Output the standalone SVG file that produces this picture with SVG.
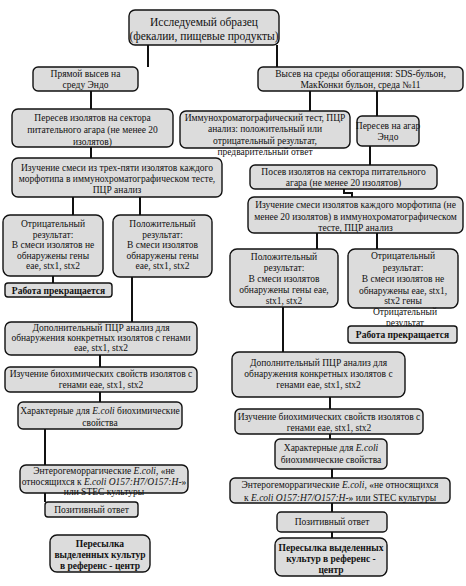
<svg xmlns="http://www.w3.org/2000/svg" width="466" height="586" viewBox="0 0 466 586">
<style>
.b{fill:#dcdcdc;stroke:#111;stroke-width:1.4}
.t{font-family:"Liberation Serif","Times New Roman",serif;font-size:9.5px;fill:#111;text-anchor:middle}
.bt{font-weight:bold}
.c{stroke:#111;stroke-width:2;fill:none}
</style>
<rect width="466" height="586" fill="#fff"/>
<g id="connectors">
<path class="c" d="M148,45V67M277,45V67M91,91V109M310,91V111M377,91V116M91,147V158M73,197V215M140,197V215M53,276V283M132,277V322M100,355V367M100,392V402M45,429V502M370,146V165M344,189V193H352V197M317,233V249M377,233V249M283,307V352M330,397V409M330,434V439M332,469V478M332,503V512M332,532V538"/>
</g>
<g id="n1"><rect class="b" x="129" y="10" width="150" height="35" rx="6"/>
<text class="t" style="font-size:11.5px"><tspan x="204" y="26">Исследуемый образец</tspan><tspan x="204" y="40">(фекалии, пищевые продукты)</tspan></text></g>
<g id="n2"><rect class="b" x="33" y="67" width="105" height="24" rx="5"/>
<text class="t"><tspan x="85.5" y="77">Прямой высев на</tspan><tspan x="85.5" y="88">среду Эндо</tspan></text></g>
<g id="n3"><rect class="b" x="258" y="67" width="205" height="24" rx="5"/>
<text class="t"><tspan x="360.5" y="77">Высев на среды обогащения: SDS-бульон,</tspan><tspan x="360.5" y="88">МакКонки бульон, среда №11</tspan></text></g>
<g id="n4"><rect class="b" x="12" y="109" width="161" height="38" rx="6"/>
<text class="t"><tspan x="92.5" y="121">Пересев изолятов на сектора</tspan><tspan x="92.5" y="133">питательного агара (не менее 20</tspan><tspan x="92.5" y="145">изолятов)</tspan></text></g>
<g id="n5"><rect class="b" x="180" y="111" width="170" height="37" rx="6"/>
<text class="t"><tspan x="265" y="121">Иммунохроматографический тест, ПЦР</tspan><tspan x="265" y="132">анализ: положительный или</tspan><tspan x="265" y="144">отрицательный результат,</tspan><tspan x="265" y="155">предварительный ответ</tspan></text></g>
<g id="n6"><rect class="b" x="357" y="116" width="62" height="30" rx="5"/>
<text class="t"><tspan x="388" y="129">Пересев на агар</tspan><tspan x="388" y="140">Эндо</tspan></text></g>
<g id="n7"><rect class="b" x="12" y="158" width="210" height="39" rx="6"/>
<text class="t"><tspan x="117" y="171">Изучение смеси из трех-пяти изолятов каждого</tspan><tspan x="117" y="182">морфотипа в иммунохроматографическом тесте,</tspan><tspan x="117" y="193">ПЦР анализ</tspan></text></g>
<g id="n8"><rect class="b" x="250" y="165" width="187" height="24" rx="5"/>
<text class="t"><tspan x="343.5" y="175">Посев изолятов на сектора питательного</tspan><tspan x="343.5" y="186">агара (не менее 20 изолятов)</tspan></text></g>
<g id="n9"><rect class="b" x="248" y="197" width="215" height="36" rx="6"/>
<text class="t"><tspan x="355.5" y="208">Изучение смеси изолятов каждого морфотипа (не</tspan><tspan x="355.5" y="219.5">менее 20 изолятов) в иммунохроматографическом</tspan><tspan x="355.5" y="231">тесте, ПЦР анализ</tspan></text></g>
<g id="n10"><rect class="b" x="3" y="215" width="100" height="61" rx="7"/>
<text class="t"><tspan x="53" y="227">Отрицательный</tspan><tspan x="53" y="237.5">результат:</tspan><tspan x="53" y="248">В смеси изолятов не</tspan><tspan x="53" y="258.5">обнаружены гены</tspan><tspan x="53" y="269">eae, stx1, stx2</tspan></text></g>
<g id="n11"><rect class="b" x="113" y="215" width="99" height="62" rx="7"/>
<text class="t"><tspan x="162.5" y="227">Положительный</tspan><tspan x="162.5" y="237.5">результат:</tspan><tspan x="162.5" y="248">В смеси изолятов</tspan><tspan x="162.5" y="258.5">обнаружены  гены</tspan><tspan x="162.5" y="269">eae, stx1, stx2</tspan></text></g>
<g id="n12"><rect class="b" x="230" y="249" width="108" height="58" rx="7"/>
<text class="t"><tspan x="284" y="260">Положительный</tspan><tspan x="284" y="271">результат:</tspan><tspan x="284" y="282">В смеси изолятов</tspan><tspan x="284" y="293">обнаружены  гены eae,</tspan><tspan x="284" y="304">stx1, stx2</tspan></text></g>
<g id="n13"><rect class="b" x="348" y="249" width="110" height="59" rx="7"/>
<text class="t"><tspan x="403" y="259">Отрицательный</tspan><tspan x="403" y="270.5">результат:</tspan><tspan x="403" y="282">В смеси изолятов не</tspan><tspan x="403" y="293.5">обнаружены eae, stx1,</tspan><tspan x="403" y="304">stx2 гены</tspan></text>
<text class="t"><tspan x="405" y="315">Отрицательный</tspan><tspan x="405" y="326">результат</tspan></text></g>
<g id="n14"><rect class="b" x="5" y="283" width="107" height="14" rx="3"/>
<text class="t bt" x="58.5" y="293.5">Работа прекращается</text></g>
<g id="n15"><rect class="b" x="348" y="326" width="109" height="17" rx="3"/>
<text class="t bt" x="402.5" y="338">Работа прекращается</text></g>
<g id="n16"><rect class="b" x="5" y="322" width="192" height="33" rx="6"/>
<text class="t"><tspan x="101" y="331">Дополнительный ПЦР анализ для</tspan><tspan x="101" y="341">обнаружения конкретных изолятов с генами</tspan><tspan x="101" y="351">eae, stx1, stx2</tspan></text></g>
<g id="n17"><rect class="b" x="232" y="352" width="173" height="45" rx="7"/>
<text class="t"><tspan x="318.5" y="366">Дополнительный ПЦР анализ для</tspan><tspan x="318.5" y="377">обнаружения конкретных изолятов с</tspan><tspan x="318.5" y="388">генами eae, stx1, stx2</tspan></text></g>
<g id="n18"><rect class="b" x="5" y="367" width="192" height="25" rx="5"/>
<text class="t"><tspan x="101" y="377">Изучение биохимических свойств изолятов с</tspan><tspan x="101" y="388">генами eae, stx1, stx2</tspan></text></g>
<g id="n19"><rect class="b" x="18" y="402" width="164" height="27" rx="5"/>
<text class="t"><tspan x="100" y="414">Характерные для <tspan font-style="italic">E.coli</tspan> биохимические</tspan><tspan x="100" y="425.5">свойства</tspan></text></g>
<g id="n20"><rect class="b" x="235" y="409" width="188" height="25" rx="5"/>
<text class="t"><tspan x="329" y="420">Изучение биохимических свойств изолятов с</tspan><tspan x="329" y="431">генами eae, stx1, stx2</tspan></text></g>
<g id="n21"><rect class="b" x="275" y="439" width="112" height="30" rx="5"/>
<text class="t"><tspan x="331" y="451">Характерные для <tspan font-style="italic">E.coli</tspan></tspan><tspan x="331" y="463">биохимические свойства</tspan></text></g>
<g id="n22"><rect class="b" x="20" y="465" width="168" height="28" rx="6"/>
<text class="t"><tspan x="104" y="474">Энтерогеморрагические <tspan font-style="italic">E.coli</tspan>, «не</tspan><tspan x="104" y="485">относящихся к <tspan font-style="italic">E.coli O157:H7/O157:H</tspan>-»</tspan><tspan x="104" y="495">или STEC культуры</tspan></text></g>
<g id="n23"><rect class="b" x="230" y="478" width="220" height="25" rx="5"/>
<text class="t"><tspan x="340" y="488">Энтерогеморрагические <tspan font-style="italic">E.coli</tspan>, «не относящихся</tspan><tspan x="340" y="501">к <tspan font-style="italic">E.coli O157:H7/O157:H</tspan>-» или STEC культуры</tspan></text></g>
<g id="n24"><rect class="b" x="45" y="502" width="93" height="15" rx="3"/>
<text class="t" x="91.5" y="513">Позитивный ответ</text></g>
<g id="n25"><rect class="b" x="277" y="512" width="110" height="20" rx="4"/>
<text class="t" x="332" y="525">Позитивный ответ</text></g>
<g id="n26"><rect class="b" x="50" y="535" width="100" height="37" rx="7"/>
<text class="t bt"><tspan x="100" y="547">Пересылка</tspan><tspan x="100" y="558">выделенных культур</tspan><tspan x="100" y="569">в референс - центр</tspan></text></g>
<g id="n27"><rect class="b" x="275" y="538" width="112" height="38" rx="7"/>
<text class="t bt"><tspan x="331" y="551">Пересылка выделенных</tspan><tspan x="331" y="562">культур в референс -</tspan><tspan x="331" y="573">центр</tspan></text></g>
</svg>
